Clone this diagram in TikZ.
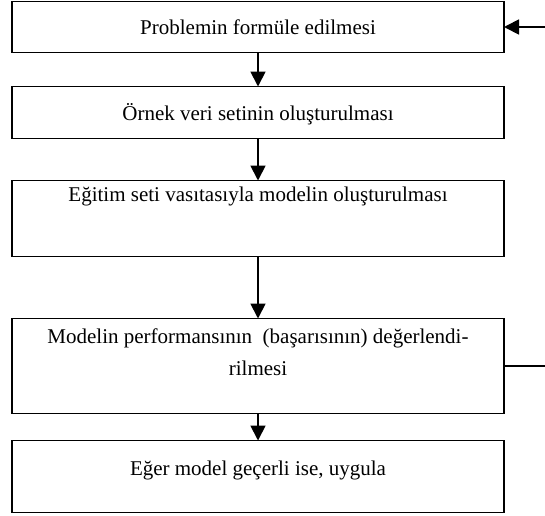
\documentclass[tikz,border=0pt]{standalone}
\usepackage{fontspec}
\setmainfont{Liberation Serif}
\usepackage{tikz}
\usetikzlibrary{arrows.meta}
\usetikzlibrary{positioning}

\begin{document}
\begin{tikzpicture}[x=1pt,y=-1pt,
	stepbox/.style={draw, line width=1.8pt, minimum width=492pt, inner sep=0pt, outer sep=0pt},
	steptext/.style={anchor=base, inner sep=0pt, align=center, font=\fontsize{21}{32}\selectfont},
	flow/.style={-{Triangle[length=15pt,width=15pt]}, line width=1.8pt}]
\useasboundingbox (0,0) rectangle (545,515);
\node[stepbox, minimum height=51pt, anchor=north] (problem) at (258,1.5) {};
\node[stepbox, minimum height=52pt, below=34pt of problem] (sample) {};
\node[stepbox, minimum height=76pt, below=42pt of sample] (train) {};
\node[stepbox, minimum height=95pt, below=62pt of train] (evaluate) {};
\node[stepbox, minimum height=72pt, below=27pt of evaluate] (apply) {};
\node[steptext] (problemtxt) at ([yshift=-33pt]problem.north) {Problemin formüle edilmesi};
\node[steptext] (sampletxt) at ([yshift=-34pt]sample.north) {Örnek veri setinin oluşturulması};
\node[steptext] (traintxt) at ([yshift=-21pt]train.north) {Eğitim seti vasıtasıyla modelin oluşturulması};
% iki satir: base = son satir
\node[steptext] (evaluatetxt) at ([yshift=-57pt]evaluate.north) {Modelin performansının\ \ (başarısının) değerlendi-\\rilmesi};
\node[steptext] (applytxt) at ([yshift=-35pt]apply.north) {Eğer model geçerli ise, uygula};
\draw[flow] (problem) -- (sample);
\draw[flow] (sample) -- (train);
\draw[flow] (train) -- (evaluate);
\draw[flow] (evaluate) -- (apply);
% geri besleme
\coordinate (loopin) at ([xshift=41pt]problem.east);
\coordinate (loopout) at ([xshift=41pt]evaluate.east);
\draw[flow] (loopin) -- (problem);
\draw[line width=1.8pt] (evaluate) -- (loopout);
\end{tikzpicture}
\end{document}
